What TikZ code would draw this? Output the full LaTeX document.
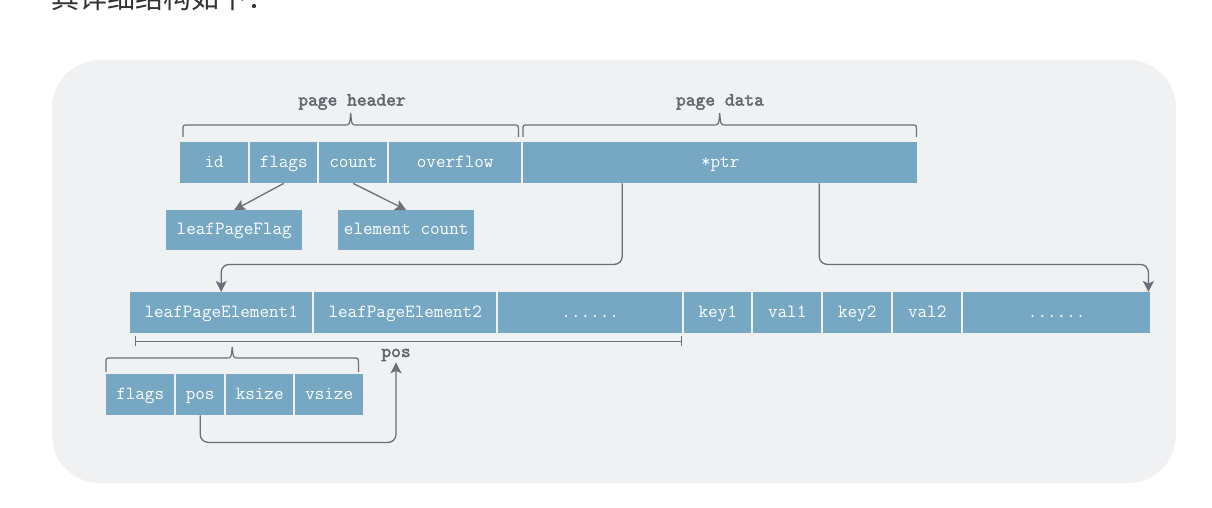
\documentclass[tikz,border=0pt]{standalone}
\usepackage{fontspec}
\newfontfamily\cjkfont{Noto Sans CJK SC}
\newfontfamily\lblfont{lmmono10-regular.otf}[FakeBold=2.2]
\usetikzlibrary{arrows.meta,calc}

\definecolor{cellblue}{HTML}{77A8C3}
\definecolor{panelgray}{HTML}{F0F1F3}
\definecolor{linegray}{HTML}{6D6E77}
\definecolor{labelgray}{HTML}{64656E}
\definecolor{introtext}{HTML}{333333}

\tikzset{
  cell/.style={fill=cellblue, text=white, anchor=north west,
    font=\ttfamily\fontsize{18.6}{20}\selectfont,
    minimum height=41pt, inner sep=0pt, text height=11pt, text depth=2pt},
  lbl/.style={text=labelgray, inner sep=1pt,
    font=\lblfont\bfseries\fontsize{18.6}{20}\selectfont},
  conn/.style={draw=linegray, line width=1.3pt},
  arr/.style={-{Stealth[length=11pt,width=11pt,inset=2.5pt]}},
  % upward brace: arms of height #1, tip of height #2
  spanbrace/.style args={#1 and #2}{draw=linegray, line width=1.2pt,
    to path={
      let \p1=(\tikztostart), \p2=(\tikztotarget),
          \p3=($(\tikztostart)!0.5!(\tikztotarget)$) in
      -- (\x1,\y1+#1pt-5pt) .. controls (\x1,\y1+#1pt) .. (\x1+5pt,\y1+#1pt)
      -- (\x3-6pt,\y1+#1pt) .. controls (\x3-1pt,\y1+#1pt) .. (\x3,\y1+#1pt+#2pt)
      .. controls (\x3+1pt,\y1+#1pt) .. (\x3+6pt,\y1+#1pt)
      -- (\x2-5pt,\y1+#1pt) .. controls (\x2,\y1+#1pt) .. (\x2,\y1+#1pt-5pt)
      -- (\tikztotarget)}}
}

\begin{document}
\begin{tikzpicture}[x=1pt,y=-1pt]
\useasboundingbox (0,0) rectangle (1212,508);
\clip (0,0) rectangle (1212,508);
\fill[white] (0,0) rectangle (1212,508);
\fill[panelgray, rounded corners=48pt] (52,60) rectangle (1176,483);

\node[anchor=base west, inner sep=0pt, text=introtext,
      font=\cjkfont\fontsize{28}{32}\selectfont] (intro) at (51,9) {其详细结构如下：};

% page header and page data
\node[cell, minimum width=68pt]  (id)       at (180,142) {id};
\node[cell, minimum width=67pt]  (flags)    at (250,142) {flags};
\node[cell, minimum width=68pt]  (count)    at (319,142) {count};
\node[cell, minimum width=132pt] (overflow) at (389,142) {overflow};
\node[cell, minimum width=394pt] (ptr)      at (523,142) {*ptr};

\node[cell, minimum width=136pt, minimum height=40pt] (leafflag)  at (166,210) {leafPageFlag};
\node[cell, minimum width=136pt, minimum height=40pt] (elemcount) at (338,210) {element count};

% leaf page elements followed by key/value data
\node[cell, minimum width=182pt] (elem1)    at (130,292) {leafPageElement1};
\node[cell, minimum width=182pt] (elem2)    at (314,292) {leafPageElement2};
\node[cell, minimum width=184pt] (elemdots) at (498,292) {......};
\node[cell, minimum width=67pt]  (key1)     at (684,292) {key1};
\node[cell, minimum width=68pt]  (val1)     at (753,292) {val1};
\node[cell, minimum width=68pt]  (key2)     at (823,292) {key2};
\node[cell, minimum width=68pt]  (val2)     at (893,292) {val2};
\node[cell, minimum width=187pt] (kvdots)   at (963,292) {......};

% fields of one element
\node[cell, minimum width=68pt] (eflags) at (106,374) {flags};
\node[cell, minimum width=48pt] (epos)   at (176,374) {pos};
\node[cell, minimum width=67pt] (eksize) at (226,374) {ksize};
\node[cell, minimum width=68pt] (evsize) at (295,374) {vsize};

% labels
\node[lbl] (hdrlbl)  at (352,102) {page header};
\node[lbl] (datalbl) at (720,102) {page data};
\node[lbl, anchor=base] (poslbl) at (396,357) {pos};

% braces
\coordinate (hdrA)  at ($(id.north west)+(3,-5)$);
\coordinate (hdrB)  at ($(overflow.north east)+(-3,-5)$);
\coordinate (dataA) at ($(ptr.north west)+(0,-5)$);
\coordinate (dataB) at ($(ptr.north east)+(-1,-5)$);
\coordinate (elA)   at ($(eflags.north west)+(0,-2)$);
\coordinate (elB)   at ($(evsize.north east)+(-5,-2)$);
\draw[spanbrace=12 and 12] (hdrA) to (hdrB);
\draw[spanbrace=12 and 12] (dataA) to (dataB);
\draw[spanbrace=14 and 11] (elA) to (elB);

% connectors
\draw[conn, arr] (flags.south) -- (leafflag.north);
\draw[conn, arr] (count.south) -- (elemcount.north);
\draw[conn, arr, rounded corners=8pt] ([xshift=-98pt]ptr.south) -- ++(0,81) -| (elem1.north);
\draw[conn, arr, rounded corners=8pt] ([xshift=99pt]ptr.south) -- ++(0,81) -| ([xshift=-2pt]kvdots.north east);
\draw[conn, arr, rounded corners=8pt] (epos.south) -- ++(0,27) -| (poslbl.south);

% span of the element area
\coordinate (spanA) at ($(elem1.south west)+(5,8)$);
\coordinate (spanB) at ($(elemdots.south east)+(0,8)$);
\draw[conn, line width=1.2pt, {Bar[width=10pt]}-{Bar[width=10pt]}] (spanA) -- (spanB);
\end{tikzpicture}
\end{document}
